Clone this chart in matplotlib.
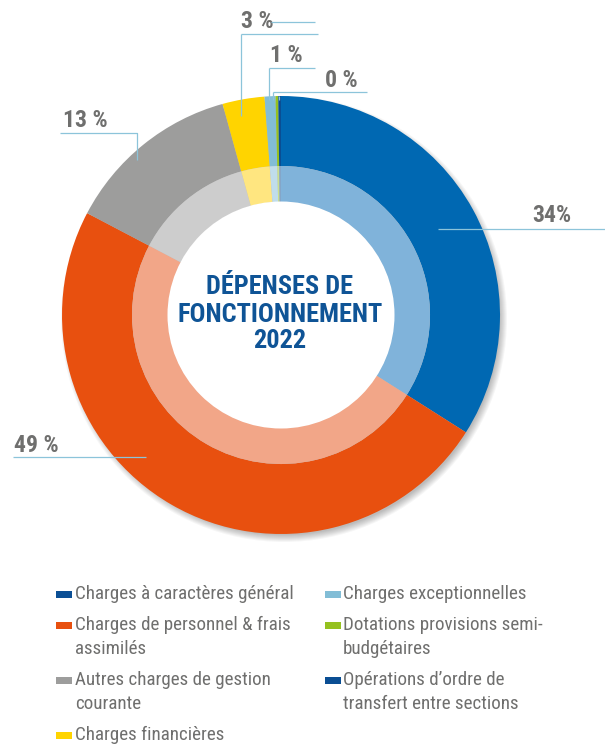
import matplotlib
matplotlib.use('Agg')
import matplotlib.pyplot as plt
from matplotlib import font_manager
from matplotlib.patches import Circle, Rectangle

# pick a narrow font if the system has one
names = {f.name for f in font_manager.fontManager.ttflist}
FONT = next((n for n in ['Liberation Sans Narrow', 'Roboto Condensed', 'Roboto']
             if n in names), 'DejaVu Sans')

# Data
categories = ['Charges à caractères général',
              'Charges de personnel & frais\nassimilés',
              'Autres charges de gestion\ncourante',
              'Charges financières',
              'Charges exceptionnelles',
              'Dotations provisions semi-\nbudgétaires',
              "Opérations d’ordre de\ntransfert entre sections"]
shares = [34.0, 48.7, 13.0, 3.1, 0.8, 0.2, 0.2]
pct_labels = ['34%', '49 %', '13 %', '3 %', '1 %', '0 %']

outer_colors = ['#0068B2', '#E8500F', '#9D9D9C', '#FFD400', '#82BDD6', '#95C11F', '#0A4E93']
inner_colors = ['#80B3DA', '#F2A688', '#CDCDCD', '#FFE680', '#C0DDEB', '#CAE08F', '#84A6C9']
legend_colors = ['#0B4F95', '#E8500F', '#9D9D9C', '#FFD400', '#82BDD6', '#95C11F', '#0A4E93']

TXT_GREY = '#6F6F6E'
LINE_BLUE = '#8CC4DA'
TITLE_BLUE = '#0F5496'

fig = plt.figure(figsize=(6.05, 7.46), dpi=100)
renderer = fig.canvas.get_renderer()


def fit(text, width, weight='normal'):
    t = fig.text(0, 0, text, fontsize=10, family=FONT, weight=weight)
    w = t.get_window_extent(renderer).width
    t.remove()
    return 10 * width / w


ax = fig.add_axes([0, 0, 1, 1])
cx, cy = 281, 315

# soft shadow under the ring
for i in range(8):
    ax.add_patch(Circle((cx + 3, cy + 4), 219 + 4 - i, color='black', alpha=0.035, lw=0, zorder=0))

# y axis is flipped below, so counterclock=True turns clockwise on screen
ax.pie(shares, radius=219, center=(cx, cy), colors=outer_colors, startangle=-90,
       counterclock=True, wedgeprops=dict(width=70, linewidth=0, edgecolor='none'))
ax.pie(shares, radius=149, center=(cx, cy), colors=inner_colors, startangle=-90,
       counterclock=True, wedgeprops=dict(width=36, linewidth=0, edgecolor='none'))
ax.add_patch(Circle((cx, cy), 113.5, color='white', lw=0, zorder=5))

ax.set_xlim(0, 605)
ax.set_ylim(746, 0)
ax.set_aspect('equal')
ax.axis('off')

# centre title
ts = fit('FONCTIONNEMENT', 204, 'semibold')
for txt, yb in zip(['DÉPENSES DE', 'FONCTIONNEMENT', '2022'], [294, 322, 348]):
    ax.text(280, yb, txt, ha='center', va='baseline', fontsize=ts, family=FONT,
            weight='semibold', color=TITLE_BLUE, zorder=6)

# percentage labels + leader lines
ps = fit('49 %', 45, 'bold')
label_pos = [(552, 222), (36, 452), (85, 127), (257, 28), (286, 62), (341, 87)]
for lab, (x, y) in zip(pct_labels, label_pos):
    ax.text(x, y, lab, ha='center', va='baseline', fontsize=ps, family=FONT,
            weight='bold', color=TXT_GREY, zorder=7)

leaders = [
    ([438, 605], [229, 229]),
    ([13, 146], [457, 457]),
    ([60, 137, 137], [133, 133, 160]),
    ([271, 315], [22, 22]),
    ([241, 318], [34, 34]),
    ([241, 241], [34, 116]),
    ([269, 315], [68, 68]),
    ([269, 269], [68, 100]),
    ([273, 367], [92, 92]),
    ([273, 273], [92, 100]),
    ([279, 279], [96, 100]),
]
for xs, ys in leaders:
    ax.plot(xs, ys, color=LINE_BLUE, lw=0.9, zorder=8, solid_capstyle='butt')

# legend
ls = fit('Charges à caractères général', 218)
col_x = [(56, 75), (56, 75), (56, 75), (56, 75), (325, 343), (325, 343), (325, 343)]
row_y = [599, 630, 685, 740, 599, 630, 685]
for lab, col, (px, tx), yb in zip(categories, legend_colors, col_x, row_y):
    ax.add_patch(Rectangle((px, yb - 8), 16, 7, color=col, lw=0))
    for k, line in enumerate(lab.split('\n')):
        ax.text(tx, yb + k * 24, line, ha='left', va='baseline', fontsize=ls,
                family=FONT, color=TXT_GREY)

fig.savefig('out.png', dpi=100)
